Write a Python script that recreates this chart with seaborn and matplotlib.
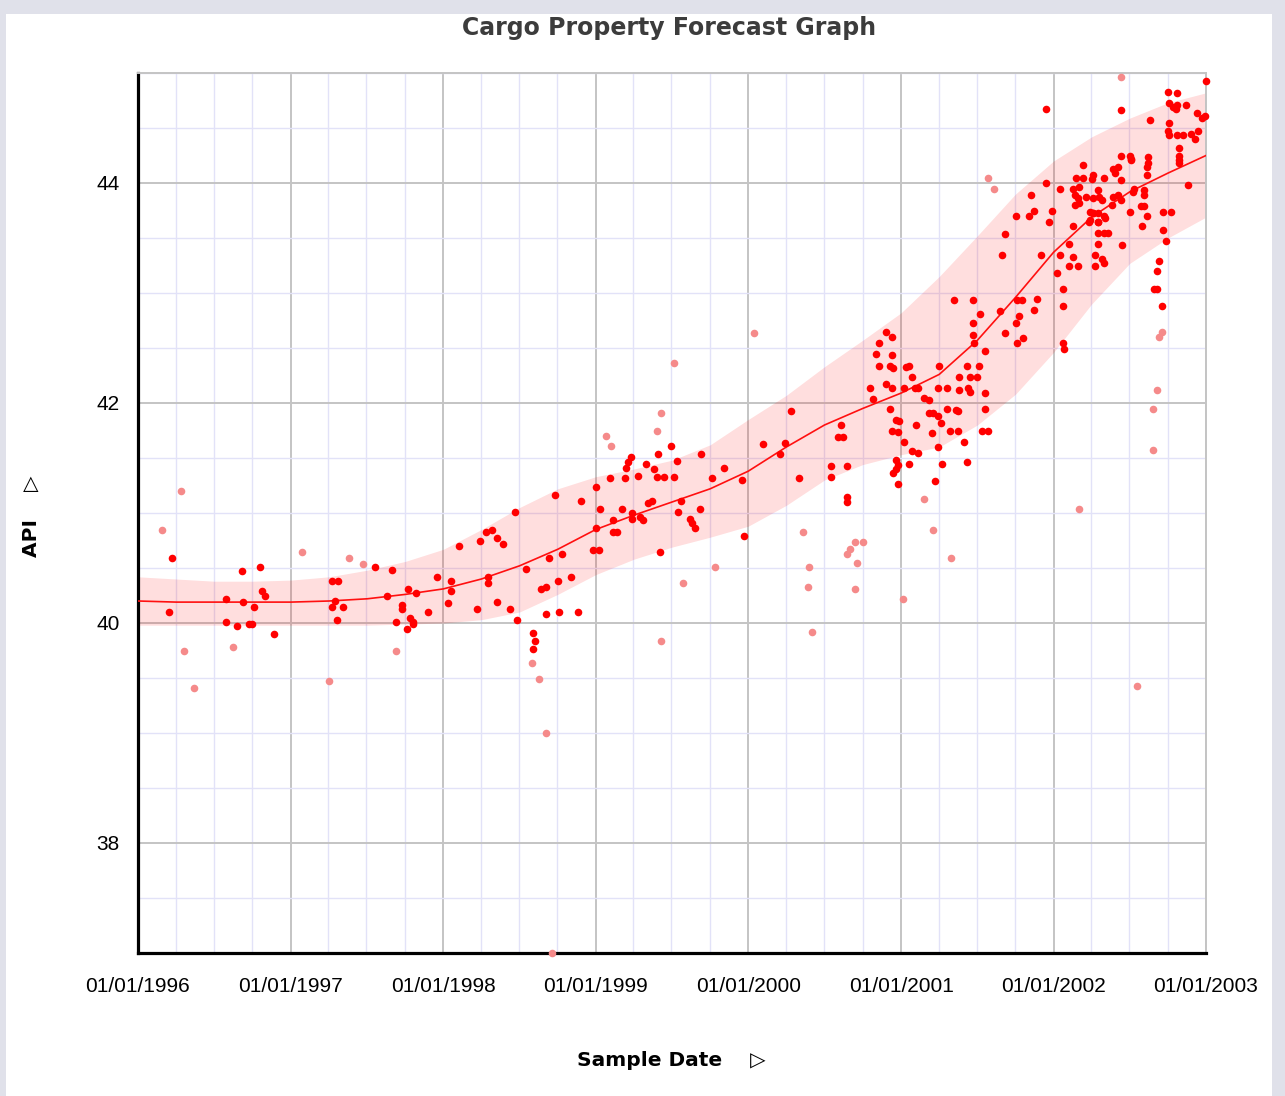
import numpy as np
import pandas as pd
import matplotlib
matplotlib.use('Agg')
import matplotlib.pyplot as plt
import matplotlib.dates as mdates
from matplotlib.ticker import MultipleLocator, FixedLocator
from matplotlib.patches import Rectangle
import seaborn as sns

# sample points (decimal year, API) - regular samples
red_year = [
    1996.22, 1996.20, 1996.58, 1996.58, 1996.65, 1996.68, 1996.69, 1996.73, 1996.75, 1996.76,
    1996.80, 1996.81, 1996.83, 1996.89, 1997.27, 1997.31, 1997.29, 1997.27, 1997.34, 1997.30,
    1997.55, 1997.66, 1997.63, 1997.73, 1997.73, 1997.69, 1997.77, 1997.82, 1997.78, 1997.80,
    1997.80, 1997.76, 1997.90, 1997.96, 1998.05, 1998.05, 1998.03, 1998.10, 1998.22, 1998.24,
    1998.28, 1998.32, 1998.35, 1998.39, 1998.29, 1998.29, 1998.35, 1998.44, 1998.48, 1998.47,
    1998.54, 1998.59, 1998.60, 1998.59, 1998.64, 1998.67, 1998.67, 1998.69, 1998.73, 1998.75,
    1998.78, 1998.76, 1998.84, 1998.88, 1998.90, 1998.98, 1999.02, 1999.00, 1999.00, 1999.03,
    1999.09, 1999.11, 1999.11, 1999.14, 1999.17, 1999.19, 1999.20, 1999.21, 1999.23, 1999.24,
    1999.24, 1999.29, 1999.31, 1999.28, 1999.33, 1999.34, 1999.37, 1999.38, 1999.40, 1999.45,
    1999.51, 1999.41, 1999.49, 1999.42, 1999.53, 1999.54, 1999.56, 1999.62, 1999.63, 1999.65,
    1999.68, 1999.69, 1999.76, 1999.84, 1999.96, 1999.97, 2000.10, 2000.21, 2000.24, 2000.28,
    2000.33, 2000.54, 2000.54, 2000.65, 2000.65, 2000.65, 2000.59, 2000.62, 2000.61, 2000.90,
    2000.94, 2000.86, 2000.84, 2000.94, 2000.86, 2000.93, 2000.95, 2001.03, 2001.05, 2001.07,
    2000.80, 2000.90, 2000.94, 2001.02, 2001.09, 2001.11, 2000.82, 2001.15, 2001.18, 2000.93,
    2001.25, 2001.24, 2001.30, 2001.38, 2001.43, 2001.38, 2001.45, 2001.50, 2001.44, 2001.45,
    2001.55, 2001.51, 2001.35, 2001.47, 2001.52, 2001.47, 2001.47, 2001.48, 2001.55, 2001.65,
    2001.68, 2001.75, 2001.76, 2001.76, 2000.97, 2000.99, 2000.94, 2000.98, 2001.10, 2001.02,
    2001.18, 2001.21, 2001.24, 2001.26, 2001.20, 2001.30, 2001.36, 2001.37, 2001.32, 2001.37,
    2001.55, 2001.53, 2001.57, 2001.41, 2001.24, 2001.43, 2001.27, 2001.07, 2001.11, 2001.05,
    2000.97, 2000.98, 2000.97, 2000.95, 2000.98, 2001.22, 2002.19, 2001.95, 2002.04, 2001.85,
    2001.75, 2001.87, 2001.84, 2001.99, 2001.97, 2002.13, 2001.68, 2001.66, 2001.92, 2002.04,
    2002.10, 2002.13, 2002.10, 2002.16, 2002.02, 2002.06, 2002.06, 2002.06, 2002.07, 2002.29,
    2002.27, 2002.32, 2002.33, 2002.27, 2002.45, 2002.29, 2002.33, 2002.36, 2002.23, 2002.26,
    2002.29, 2002.58, 2002.61, 2002.57, 2002.59, 2002.50, 2002.52, 2002.59, 2002.59, 2002.61,
    2002.62, 2002.61, 2002.51, 2002.72, 2002.77, 2002.72, 2002.74, 2002.69, 2002.68, 2002.66,
    2002.68, 2002.71, 2002.88, 2002.82, 2002.44, 2002.63, 2002.75, 2002.81, 2002.76, 2002.78,
    2002.81, 2002.87, 2002.80, 2002.94, 2002.97, 2002.99, 2003.00, 2002.76, 2002.75, 2002.76,
    2002.81, 2002.85, 2002.90, 2002.93, 2002.95, 2002.82, 2002.82, 2002.82, 2002.44, 2002.50,
    2002.51, 2002.62, 2002.15, 2002.19, 2002.26, 2002.25, 2002.33, 2002.39, 2002.42, 2002.40,
    2002.44, 2002.13, 2002.17, 2002.14, 2002.16, 2002.21, 2002.29, 2002.30, 2002.26, 2002.32,
    2002.39, 2002.42, 2002.44, 2002.53, 2002.14, 2002.17, 2002.24, 2002.26, 2002.29, 2002.33,
    2002.24, 2002.29, 2002.34, 2002.38, 2001.79, 2001.89, 2001.87, 2001.77, 2001.80, 2001.95,
]
red_api = [
    40.59, 40.10, 40.22, 40.01, 39.97, 40.47, 40.19, 39.99, 39.99, 40.15,
    40.51, 40.29, 40.25, 39.90, 40.38, 40.38, 40.20, 40.15, 40.15, 40.03,
    40.51, 40.48, 40.25, 40.16, 40.13, 40.01, 40.31, 40.27, 40.05, 40.01,
    39.99, 39.95, 40.10, 40.42, 40.38, 40.29, 40.18, 40.70, 40.13, 40.75,
    40.83, 40.85, 40.77, 40.72, 40.42, 40.36, 40.19, 40.13, 40.03, 41.01,
    40.49, 39.91, 39.84, 39.76, 40.31, 40.33, 40.08, 40.59, 41.16, 40.38,
    40.63, 40.10, 40.42, 40.10, 41.11, 40.66, 40.66, 41.24, 40.86, 41.04,
    41.32, 40.94, 40.83, 40.83, 41.04, 41.32, 41.41, 41.46, 41.51, 41.00,
    40.95, 40.96, 40.94, 41.34, 41.45, 41.09, 41.11, 41.40, 41.33, 41.33,
    41.33, 41.54, 41.61, 40.65, 41.47, 41.01, 41.11, 40.95, 40.91, 40.86,
    41.04, 41.54, 41.32, 41.41, 41.30, 40.79, 41.63, 41.54, 41.64, 41.93,
    41.32, 41.43, 41.33, 41.43, 41.15, 41.10, 41.69, 41.69, 41.80, 42.65,
    42.60, 42.55, 42.45, 42.44, 42.34, 42.34, 42.32, 42.33, 42.34, 42.24,
    42.14, 42.17, 42.14, 42.14, 42.14, 42.14, 42.04, 42.05, 42.03, 41.95,
    42.34, 42.14, 42.14, 42.24, 42.34, 42.12, 42.24, 42.24, 42.14, 42.10,
    42.09, 42.34, 42.94, 42.94, 42.81, 42.73, 42.62, 42.55, 42.47, 42.84,
    42.64, 42.73, 42.55, 42.94, 41.85, 41.84, 41.75, 41.74, 41.80, 41.65,
    41.91, 41.91, 41.88, 41.82, 41.73, 41.95, 41.94, 41.93, 41.75, 41.75,
    41.95, 41.75, 41.75, 41.65, 41.60, 41.46, 41.45, 41.56, 41.55, 41.45,
    41.48, 41.44, 41.40, 41.36, 41.26, 41.29, 44.16, 44.00, 43.95, 43.89,
    43.70, 43.75, 43.70, 43.75, 43.65, 43.61, 43.54, 43.35, 43.35, 43.35,
    43.45, 43.33, 43.25, 43.25, 43.18, 43.04, 42.88, 42.55, 42.49, 43.45,
    43.35, 43.31, 43.27, 43.25, 43.44, 43.55, 43.55, 43.55, 43.65, 43.73,
    43.65, 43.61, 43.70, 43.79, 43.79, 43.74, 43.92, 43.94, 43.89, 44.07,
    44.18, 44.15, 44.21, 43.74, 43.74, 43.57, 43.47, 43.29, 43.20, 43.04,
    43.04, 42.88, 43.98, 44.18, 44.66, 44.57, 44.83, 44.82, 44.73, 44.69,
    44.71, 44.71, 44.67, 44.64, 44.59, 44.61, 44.93, 44.55, 44.47, 44.44,
    44.44, 44.44, 44.45, 44.40, 44.47, 44.32, 44.25, 44.21, 44.25, 44.25,
    44.22, 44.24, 44.05, 44.05, 44.07, 44.04, 44.05, 44.13, 44.15, 44.09,
    44.03, 43.95, 43.96, 43.89, 43.86, 43.87, 43.94, 43.87, 43.86, 43.85,
    43.87, 43.89, 43.85, 43.95, 43.80, 43.82, 43.74, 43.73, 43.73, 43.70,
    43.66, 43.65, 43.68, 43.80, 42.94, 42.95, 42.85, 42.79, 42.59, 44.67,
]

# outlier samples (light pink)
pink_year = [
    1996.28, 1996.16, 1996.30, 1996.37, 1996.62, 1997.07, 1997.25, 1997.38, 1997.47, 1997.69,
    1998.58, 1998.63, 1998.67, 1998.71, 1999.43, 1999.57, 1999.78, 2000.04, 1999.51, 1999.43,
    1999.40, 1999.07, 1999.10, 2000.36, 2000.40, 2000.39, 2000.42, 2000.70, 2000.75, 2000.67,
    2000.65, 2000.71, 2000.70, 2001.01, 2001.15, 2001.21, 2001.33, 2001.57, 2001.61, 2002.71,
    2002.69, 2002.68, 2002.65, 2002.44, 2002.55, 2002.17, 2002.65,
]
pink_api = [
    41.20, 40.85, 39.75, 39.41, 39.78, 40.65, 39.47, 40.59, 40.54, 39.75,
    39.64, 39.49, 39.00, 37.00, 39.84, 40.36, 40.51, 42.64, 42.36, 41.91,
    41.75, 41.70, 41.61, 40.83, 40.51, 40.33, 39.92, 40.74, 40.74, 40.67,
    40.63, 40.55, 40.31, 40.22, 41.13, 40.85, 40.59, 44.05, 43.95, 42.65,
    42.60, 42.12, 41.95, 44.96, 39.43, 41.04, 41.57,
]

# forecast trend and its band, quarterly
trend_year = [1996.00, 1996.25, 1996.50, 1996.75, 1997.00, 1997.25, 1997.50, 1997.75,
              1998.00, 1998.25, 1998.50, 1998.75, 1999.00, 1999.25, 1999.50, 1999.75,
              2000.00, 2000.25, 2000.50, 2000.75, 2001.00, 2001.25, 2001.50, 2001.75,
              2002.00, 2002.25, 2002.50, 2002.75, 2003.00]
trend_api = [40.20, 40.19, 40.19, 40.19, 40.19, 40.20, 40.22, 40.26,
             40.31, 40.40, 40.52, 40.67, 40.85, 40.98, 41.10, 41.22,
             41.38, 41.60, 41.80, 41.95, 42.09, 42.26, 42.57, 42.96,
             43.37, 43.69, 43.92, 44.09, 44.25]
band_upper = [40.42, 40.40, 40.38, 40.38, 40.39, 40.42, 40.48, 40.56,
              40.67, 40.85, 41.05, 41.22, 41.33, 41.40, 41.48, 41.62,
              41.85, 42.07, 42.33, 42.57, 42.82, 43.15, 43.52, 43.90,
              44.20, 44.42, 44.59, 44.73, 44.82]
band_lower = [39.98, 39.98, 39.98, 39.98, 39.98, 39.98, 39.98, 39.99,
              40.00, 40.03, 40.10, 40.26, 40.44, 40.58, 40.69, 40.78,
              40.88, 41.07, 41.30, 41.44, 41.53, 41.60, 41.80, 42.08,
              42.46, 42.90, 43.27, 43.50, 43.69]


def to_dates(years):
    years = np.asarray(years, dtype=float)
    whole = np.floor(years).astype(int)
    starts = pd.to_datetime([f'{y}-01-01' for y in whole])
    return starts + pd.to_timedelta((years - whole) * 365.25, unit='D')


red_df = pd.DataFrame({'date': to_dates(red_year), 'api': red_api})
pink_df = pd.DataFrame({'date': to_dates(pink_year), 'api': pink_api})
trend_df = pd.DataFrame({'date': to_dates(trend_year), 'api': trend_api,
                         'upper': band_upper, 'lower': band_lower})

sns.set_style('white')
plt.rcParams['font.family'] = ['DejaVu Sans']

W, H = 1285, 1096
fig = plt.figure(figsize=(W / 100, H / 100), dpi=100, facecolor='#E0E1EA')
fig.patches.append(Rectangle((6 / W, 0), (1272 - 6) / W, 1 - 14 / H,
                             transform=fig.transFigure, facecolor='white',
                             edgecolor='none', zorder=-10))
ax = fig.add_axes([138 / W, 1 - 953 / H, (1206 - 138) / W, (953 - 73) / H])
ax.set_zorder(1)
ax.set_facecolor('white')

ax.fill_between(trend_df['date'], trend_df['lower'], trend_df['upper'],
                color='red', alpha=0.13, linewidth=0, zorder=2)
sns.lineplot(data=trend_df, x='date', y='api', color='#FF1010', linewidth=1.2,
             ax=ax, zorder=3)
sns.scatterplot(data=pink_df, x='date', y='api', color='#F58A8A', s=30,
                linewidth=0, marker='o', ax=ax, zorder=4, clip_on=False)
sns.scatterplot(data=red_df, x='date', y='api', color='#FF0000', s=30,
                linewidth=0, marker='o', ax=ax, zorder=5, clip_on=False)

ax.set_xlim(pd.Timestamp('1996-01-01'), pd.Timestamp('2003-01-01'))
ax.set_ylim(37, 45)

ax.xaxis.set_major_locator(mdates.YearLocator())
ax.xaxis.set_major_formatter(mdates.DateFormatter('%m/%d/%Y'))
ax.xaxis.set_minor_locator(mdates.MonthLocator(bymonth=[4, 7, 10]))
ax.yaxis.set_major_locator(FixedLocator([38, 40, 42, 44]))
ax.yaxis.set_minor_locator(MultipleLocator(0.5))

ax.set_axisbelow(True)
ax.grid(which='major', color='#C4C4C4', linewidth=1.4)
ax.grid(which='minor', color='#E2E2F8', linewidth=1.0)

ax.tick_params(axis='x', which='major', length=9, width=1.5, color='black',
               direction='out', pad=8, labelsize=15, labelcolor='black')
ax.tick_params(axis='x', which='minor', length=5, width=1.5, color='black',
               direction='out')
ax.tick_params(axis='y', which='both', length=6, width=1.5, color='black',
               direction='out', pad=7, labelsize=15, labelcolor='black')
for lab in ax.get_xticklabels() + ax.get_yticklabels():
    lab.set_fontfamily('Liberation Sans')

for side in ['left', 'bottom']:
    ax.spines[side].set_color('black')
    ax.spines[side].set_linewidth(2.3)
for side in ['top', 'right']:
    ax.spines[side].set_color('#C4C4C4')
    ax.spines[side].set_linewidth(1.4)

ax.set_xlabel('')
ax.set_ylabel('')

fig.text(669 / W, 1 - 28 / H, 'Cargo Property Forecast Graph', ha='center',
         va='center', fontsize=17, fontweight='bold', color='#3C3C3C')
fig.text(671 / W, 1 - 1060 / H, 'Sample Date    \u25b7', ha='center', va='center',
         fontsize=14.5, fontweight='bold', color='black')
fig.text(31 / W, 1 - 516 / H, 'API    \u25b7', ha='center', va='center',
         rotation=90, fontsize=14.5, fontweight='bold', color='black')

fig.savefig('out.png', dpi=100, facecolor=fig.get_facecolor())
